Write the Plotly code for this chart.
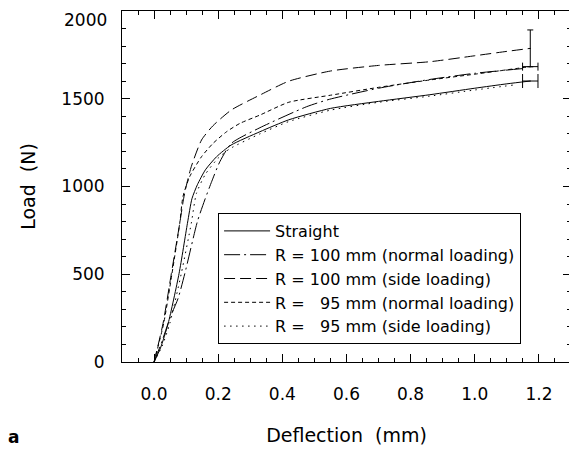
import plotly.graph_objects as go

# ---- data ----
straight_x = [0, 0.02, 0.044, 0.078, 0.104, 0.118, 0.135, 0.16, 0.195, 0.24, 0.33, 0.42, 0.55, 0.7, 0.86, 1.0, 1.1, 1.173]
straight_y = [0, 80, 220, 505, 790, 930, 1010, 1095, 1170, 1236, 1312, 1380, 1445, 1485, 1523, 1560, 1585, 1601]

r100n_x = [0, 0.025, 0.051, 0.075, 0.096, 0.135, 0.158, 0.18, 0.205, 0.241, 0.33, 0.476, 0.547, 0.7, 0.86, 1.0, 1.15]
r100n_y = [0, 120, 258, 363, 505, 800, 923, 1030, 1141, 1246, 1335, 1455, 1497, 1560, 1610, 1645, 1672]

r100s_x = [0, 0.028, 0.054, 0.08, 0.092, 0.1, 0.116, 0.148, 0.183, 0.241, 0.33, 0.42, 0.55, 0.7, 0.86, 1.0, 1.1, 1.173]
r100s_y = [0, 220, 505, 790, 930, 1000, 1113, 1265, 1345, 1436, 1521, 1600, 1658, 1690, 1711, 1745, 1770, 1787]

r95n_x = [0, 0.03, 0.056, 0.08, 0.09, 0.111, 0.148, 0.184, 0.226, 0.268, 0.33, 0.42, 0.55, 0.7, 0.86, 1.0, 1.1, 1.173]
r95n_y = [0, 220, 505, 790, 942, 1056, 1170, 1246, 1312, 1360, 1407, 1480, 1520, 1565, 1607, 1640, 1665, 1683]

r95s_x = [0, 0.025, 0.049, 0.085, 0.116, 0.132, 0.16, 0.2, 0.236, 0.33, 0.42, 0.55, 0.7, 0.86, 1.0, 1.12]
r95s_y = [0, 90, 220, 505, 790, 960, 1070, 1162, 1215, 1300, 1370, 1435, 1480, 1515, 1550, 1578]

series_names = [
    "Straight",
    "R = 100 mm (normal loading)",
    "R = 100 mm (side loading)",
    "R =\u00a0\u00a0\u00a095 mm (normal loading)",
    "R =\u00a0\u00a0\u00a095 mm (side loading)",
]

# end-of-curve scatter (mean +/- sd) bars
straight_end_dx = 0.024
r95n_end_dx = 0.024
r100s_end_dy = 105

y_max = 2000
y_top_label = "2000"

FONT = "DejaVu Sans, Arial, sans-serif"

fig = go.Figure()

series = [
    (straight_x, straight_y, "solid"),
    (r100n_x, r100n_y, "16px,4px,2px,4px"),
    (r100s_x, r100s_y, "11px,5px"),
    (r95n_x, r95n_y, "4px,3px"),
    (r95s_x, r95s_y, "1.5px,4.5px"),
]
for (xs, ys, dash), name in zip(series, series_names):
    fig.add_trace(go.Scatter(
        x=xs, y=ys, mode="lines", name=name,
        line=dict(color="black", width=1, dash=dash, shape="spline", smoothing=0.6),
    ))

# end bars
fig.add_trace(go.Scatter(
    x=[straight_x[-1]], y=[straight_y[-1]], mode="markers", showlegend=False,
    marker=dict(size=1, color="black"),
    error_x=dict(type="data", array=[straight_end_dx], color="black", thickness=1, width=7),
))
fig.add_trace(go.Scatter(
    x=[r95n_x[-1]], y=[r95n_y[-1]], mode="markers", showlegend=False,
    marker=dict(size=1, color="black"),
    error_x=dict(type="data", array=[r95n_end_dx], color="black", thickness=1, width=4),
))
fig.add_trace(go.Scatter(
    x=[r100s_x[-1]], y=[r100s_y[-1]], mode="markers", showlegend=False,
    marker=dict(size=1, color="black"),
    error_y=dict(type="data", array=[r100s_end_dy], color="black", thickness=1, width=3),
))

axis_common = dict(
    showline=True, linecolor="black", linewidth=1, mirror="allticks",
    ticks="inside", ticklen=8, tickwidth=1, tickcolor="black",
    showgrid=False, zeroline=False, automargin=False, ticklabeloverflow="allow",
    tickfont=dict(family=FONT, size=17, color="black"),
)

fig.update_xaxes(
    range=[-0.1, 1.3], tickmode="linear", tick0=0, dtick=0.2, tickformat=".1f",
    minor=dict(tickmode="linear", tick0=0, dtick=0.05, ticks="inside", ticklen=4,
               tickcolor="black", showgrid=False),
    ticklabelstandoff=17,
    title=dict(text="Deflection\u00a0\u00a0(mm)", font=dict(family=FONT, size=19, color="black"), standoff=25),
    **axis_common,
)
fig.update_yaxes(
    range=[0, y_max], tickmode="linear", tick0=0, dtick=500,
    labelalias={y_top_label: " "},
    minor=dict(tickmode="linear", tick0=0, dtick=100, ticks="inside", ticklen=4,
               tickcolor="black", showgrid=False),
    ticklabelstandoff=13,
    title=dict(text="Load\u00a0\u00a0(N)", font=dict(family=FONT, size=19, color="black"), standoff=20),
    **axis_common,
)

# top tick label, nudged down (as in the reference) so it is not clipped at the page edge
fig.add_annotation(
    text=y_top_label, xref="paper", yref="y", x=-0.031, y=y_max,
    xanchor="right", yanchor="middle", yshift=-9, showarrow=False, borderpad=0,
    font=dict(family=FONT, size=17, color="black"),
)

fig.add_annotation(
    text="<b>a</b>", xref="paper", yref="paper", x=-0.242, y=-0.214,
    xanchor="center", yanchor="middle", showarrow=False,
    font=dict(family=FONT, size=17, color="black"),
)

# page body adds an 8px offset; margins compensate so the plot lands where the reference has it
fig.update_layout(
    width=577, height=460,
    margin=dict(l=114, r=14, t=3, b=106),
    paper_bgcolor="white", plot_bgcolor="white",
    showlegend=True,
    legend=dict(
        x=0.214, y=0.4245, xanchor="left", yanchor="top",
        bordercolor="black", borderwidth=1, bgcolor="white",
        font=dict(family=FONT, size=16, color="black"),
        tracegroupgap=0, itemwidth=46,
    ),
)

fig.write_html("out.html")
